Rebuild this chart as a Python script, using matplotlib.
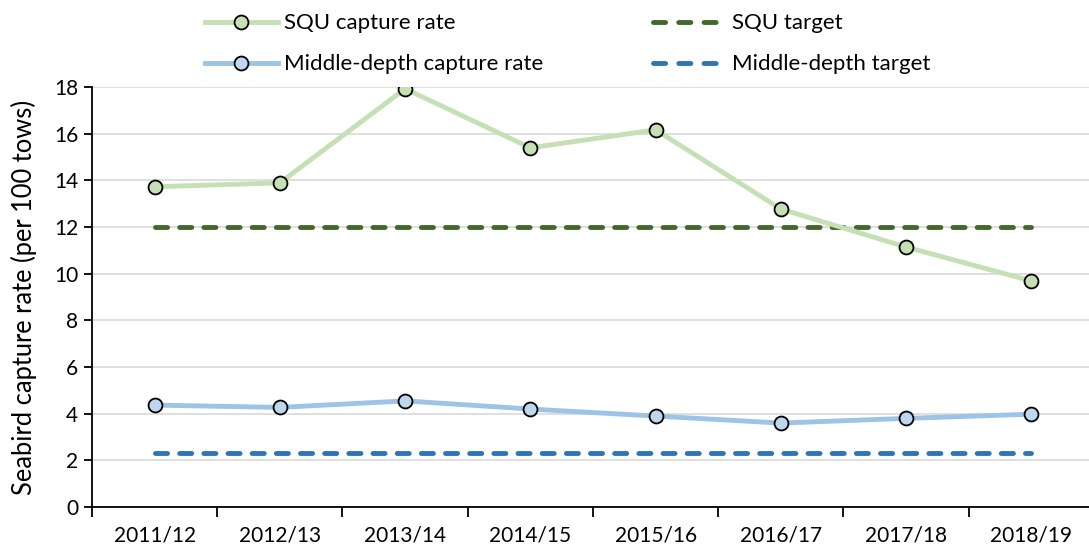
import numpy as np
import matplotlib
matplotlib.use("Agg")
import matplotlib.pyplot as plt
from matplotlib.lines import Line2D
from matplotlib.ticker import FixedLocator

plt.rcParams['font.family'] = ['Lato', 'DejaVu Sans']
plt.rcParams['lines.scale_dashes'] = False

# --- DATA ---
seasons = ['2011/12', '2012/13', '2013/14', '2014/15',
           '2015/16', '2016/17', '2017/18', '2018/19']
squ_rate = [13.72, 13.89, 17.92, 15.39, 16.16, 12.77, 11.14, 9.69]
squ_target = [12.0] * 8
mdt_rate = [4.37, 4.27, 4.55, 4.20, 3.90, 3.60, 3.80, 3.98]
mdt_target = [2.3] * 8

# --- COLOURS ---
C_SQU = '#c5e0b4'
C_SQU_T = '#43682b'
C_MDT = '#9dc3e6'
C_MDT_T = '#2e75b6'

fig = plt.figure(figsize=(10.89, 5.5), dpi=100)
ax = fig.add_axes([0.0845, 0.078, 0.92, 0.764])

x = np.arange(len(seasons))
dash = (0, (8.7, 8.7))
lw = 3.5

h1, = ax.plot(x, squ_rate, color=C_SQU, lw=lw, marker='o', ms=10,
              mfc=C_SQU, mec='black', mew=1.3, label='SQU capture rate', zorder=4)
ax.plot(x, squ_target, color=C_SQU_T, lw=lw, ls=dash, dash_capstyle='round', zorder=3)
h3, = ax.plot(x, mdt_rate, color=C_MDT, lw=lw, marker='o', ms=10,
              mfc='#bdd7ee', mec='black', mew=1.3, label='Middle-depth capture rate', zorder=4)
ax.plot(x, mdt_target, color=C_MDT_T, lw=lw, ls=dash, dash_capstyle='round', zorder=3)

# legend proxies for the dashed targets (three whole dashes)
leg_dash = (0, (8.7, 9.5))
h2 = Line2D([], [], color=C_SQU_T, lw=lw, ls=leg_dash, dash_capstyle='round',
            label='SQU target')
h4 = Line2D([], [], color=C_MDT_T, lw=lw, ls=leg_dash, dash_capstyle='round',
            label='Middle-depth target')

ax.set_xlim(-0.5, 7.5)
ax.set_ylim(0, 18)
ax.set_yticks(np.arange(0, 19, 2))
ax.set_xticks(x)
ax.set_xticklabels(seasons)
ax.xaxis.set_minor_locator(FixedLocator(np.arange(-0.5, 8, 1)))
ax.tick_params(axis='x', which='major', length=0, pad=13, labelsize=15)
ax.tick_params(axis='x', which='minor', length=7, width=1.3, direction='out')
ax.tick_params(axis='y', length=6, width=1.3, labelsize=15, pad=4)

ax.grid(axis='y', color='#d9d9d9', lw=1.2, zorder=0)
ax.set_axisbelow(True)
for s in ['top', 'right']:
    ax.spines[s].set_visible(False)
for s in ['left', 'bottom']:
    ax.spines[s].set_linewidth(1.3)

ax.set_ylabel('Seabird capture rate (per 100 tows)', fontsize=18.4, labelpad=12)

handles = [h1, h3, h2, h4]
leg = fig.legend(handles=handles, labels=[h.get_label() for h in handles],
                 loc='upper center', bbox_to_anchor=(0.521, 1.012), ncol=2,
                 frameon=False, fontsize=16, handlelength=3.3,
                 columnspacing=4.95, labelspacing=0.94, handletextpad=0.25)

fig.savefig('out.png', dpi=100)
